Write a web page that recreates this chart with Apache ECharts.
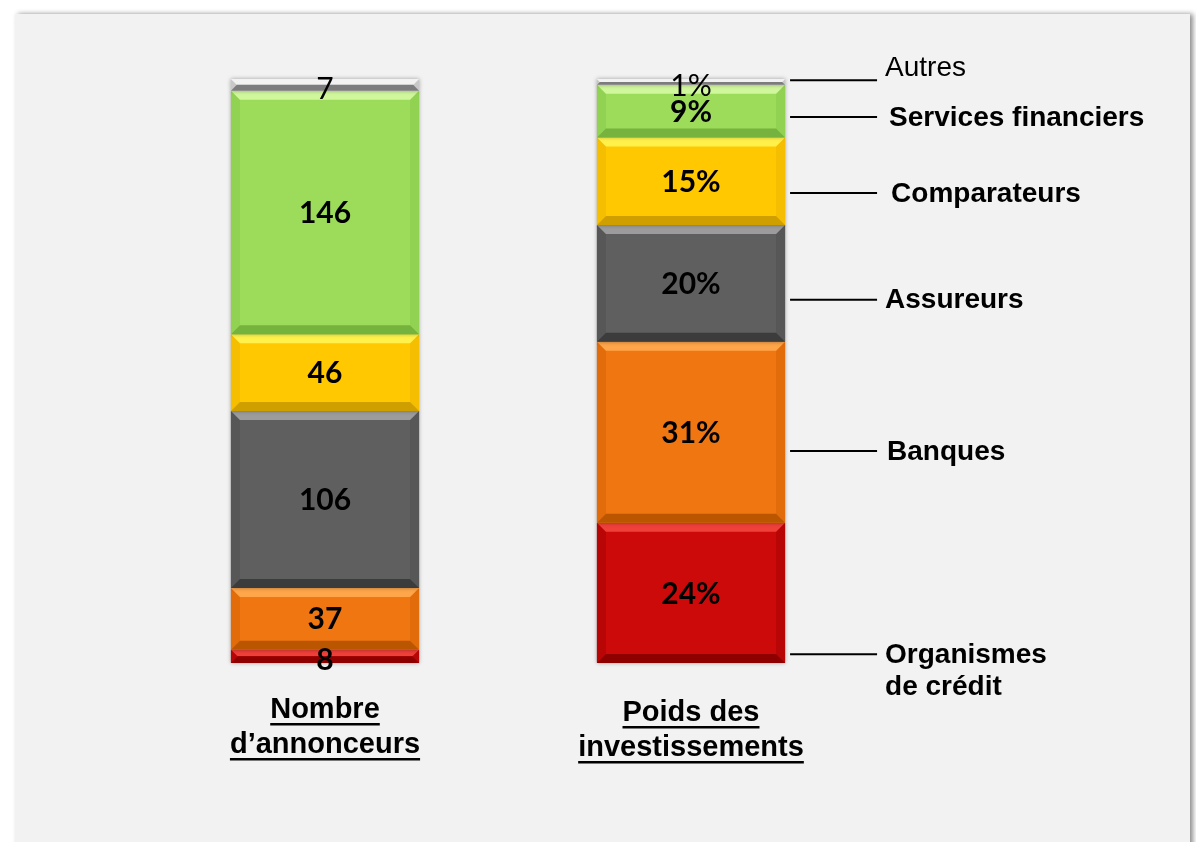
<!DOCTYPE html>
<html>
<head>
<meta charset="utf-8">
<title>Annonceurs et investissements</title>
<script src="https://cdn.jsdelivr.net/npm/echarts@6/dist/echarts.min.js"></script>
<style>
  html, body { margin: 0; padding: 0; background: #ffffff; }
  #chart { width: 1196px; height: 842px; }
</style>
</head>
<body>
<div id="chart"></div>
<script>
// data, bottom segment first
const categories = ['Nombre\nd\u2019annonceurs', 'Poids des\ninvestissements'];
const segments = ['Organismes\nde crédit', 'Banques', 'Assureurs', 'Comparateurs', 'Services financiers', 'Autres'];
const annonceurs = [8, 37, 106, 46, 146, 7];
const investissements = [24, 31, 20, 15, 9, 1];
const valueSuffix = ['', '%'];

// where the leader lines of the right bar sit (in % of the bar) and text shift
const leaderAt = [1.5, 36.3, 62.2, 80.5, 93.5, 99.8];
const leaderTextDy = [16, 0, 0, 0, 0, -13];
const leaderTextDx = [0, 2, 0, 6, 4, 0];

// colours: base, top bevel, bottom bevel, side bevel
const palette = [
  ['#cc0a0a', '#f0403a', '#8e0000', '#b80606'],
  ['#f07612', '#ffa64a', '#bb5600', '#e26c0a'],
  ['#5f5f5f', '#9c9c9c', '#3c3c3c', '#575757'],
  ['#ffc800', '#fff04a', '#cf9f00', '#f5be00'],
  ['#9cdc5a', '#d0f79c', '#76b23e', '#92d252'],
  ['#d9d9d9', '#f2f2f2', '#7c7c7c', '#c8c8c8']
];
const boldLabel = [true, true, true, true, true, false];

const BAR_RATIO = 0.514;
const BEVEL = 9;

const columns = [annonceurs, investissements];

// stacked shares (% of each bar)
function stackData(segIdx) {
  return columns.map((col, cat) => {
    const total = col.reduce((a, b) => a + b, 0);
    let start = 0;
    for (let i = 0; i < segIdx; i++) start += col[i] / total * 100;
    const end = start + col[segIdx] / total * 100;
    return [cat, start, end, col[segIdx]];
  });
}

function renderItem(params, api) {
  const cat = api.value(0);
  const lo = api.coord([cat, api.value(1)]);
  const hi = api.coord([cat, api.value(2)]);
  const w = api.size([1, 0])[0] * BAR_RATIO;
  const x0 = lo[0] - w / 2, x1 = lo[0] + w / 2;
  const y0 = hi[1], y1 = lo[1];
  const h = y1 - y0;
  const b = Math.min(BEVEL, h / 2);
  const pal = palette[params.seriesIndex];
  const txt = api.value(3) + valueSuffix[cat];
  // tiny segments: text sits a bit low, like the original
  const ty = h < 20 ? (y0 + y1) / 2 + 4 : (y0 + y1) / 2 + 1;
  return {
    type: 'group',
    children: [
      { type: 'rect', shape: { x: x0, y: y0, width: w, height: h },
        style: { fill: pal[0], shadowColor: 'rgba(0,0,0,0.35)', shadowBlur: 4 } },
      { type: 'polygon', shape: { points: [[x0, y0], [x0 + b, y0 + b], [x0 + b, y1 - b], [x0, y1]] },
        style: { fill: pal[3] } },
      { type: 'polygon', shape: { points: [[x1, y0], [x1 - b, y0 + b], [x1 - b, y1 - b], [x1, y1]] },
        style: { fill: pal[3] } },
      { type: 'polygon', shape: { points: [[x0, y0], [x1, y0], [x1 - b, y0 + b], [x0 + b, y0 + b]] },
        style: { fill: pal[1] } },
      { type: 'polygon', shape: { points: [[x0, y1], [x1, y1], [x1 - b, y1 - b], [x0 + b, y1 - b]] },
        style: { fill: pal[2] } },
      { type: 'text', z2: 10,
        style: { text: txt, x: lo[0], y: ty,
          font: (boldLabel[params.seriesIndex] ? 'bold ' : '') + '30px Lato',
          fill: '#000000', align: 'center', verticalAlign: 'middle',
          textAlign: 'center', textVerticalAlign: 'middle' } }
    ]
  };
}

const chart = echarts.init(document.getElementById('chart'));

chart.setOption({
  animation: false,
  backgroundColor: '#ffffff',
  grid: { left: 142, right: 322, top: 79, bottom: 179 },
  xAxis: { type: 'category', data: categories, show: false },
  yAxis: { type: 'value', min: 0, max: 100, show: false },
  series: segments.map((name, i) => ({
    name: name,
    type: 'custom',
    renderItem: renderItem,
    encode: { x: 0, y: [1, 2] },
    data: stackData(i)
  }))
});

// texts and leader lines placed through the axes
const ctx = document.createElement('canvas').getContext('2d');
const catFont = 'bold 29px "Liberation Sans"';
ctx.font = catFont;

const graphics = [
  { type: 'rect', z: -100, shape: { x: 15, y: 14, width: 1175, height: 840 },
    style: { fill: '#f2f2f2', shadowColor: 'rgba(0,0,0,0.45)', shadowBlur: 5, shadowOffsetX: 3 } }
];

categories.forEach((c, i) => {
  const cx = chart.convertToPixel({ xAxisIndex: 0 }, i);
  c.split('\n').forEach((line, k) => {
    const cy = 710 + i * 3 + k * 35;
    const lw = ctx.measureText(line).width;
    graphics.push({ type: 'text', z: 10,
      style: { text: line, x: cx, y: cy, font: catFont, fill: '#000000',
        align: 'center', verticalAlign: 'middle', textAlign: 'center', textVerticalAlign: 'middle' } });
    graphics.push({ type: 'rect', z: 10,
      shape: { x: cx - lw / 2, y: cy + 13, width: lw, height: 2.5 },
      style: { fill: '#000000' } });
  });
});

const rightCx = chart.convertToPixel({ xAxisIndex: 0 }, 1);
const band = chart.convertToPixel({ xAxisIndex: 0 }, 1) - chart.convertToPixel({ xAxisIndex: 0 }, 0);
const barRight = rightCx + band * BAR_RATIO / 2;
segments.forEach((name, i) => {
  const ly = chart.convertToPixel({ yAxisIndex: 0 }, leaderAt[i]);
  graphics.push({ type: 'line', z: 10,
    shape: { x1: barRight + 5, y1: ly, x2: barRight + 92, y2: ly },
    style: { stroke: '#000000', lineWidth: 2 } });
  graphics.push({ type: 'text', z: 10,
    style: { text: name, x: barRight + 100 + leaderTextDx[i], y: ly + leaderTextDy[i] + 1,
      font: (boldLabel[i] ? 'bold ' : '') + '28px "Liberation Sans"',
      lineHeight: 32, fill: '#000000',
      align: 'left', verticalAlign: 'middle', textAlign: 'left', textVerticalAlign: 'middle' } });
});

chart.setOption({ graphic: graphics });
</script>
</body>
</html>
